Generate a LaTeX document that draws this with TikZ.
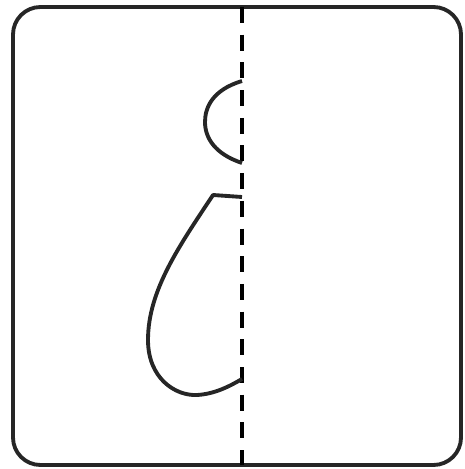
\documentclass[tikz,border=0pt]{standalone}
\usetikzlibrary{positioning}

\begin{document}
\begin{tikzpicture}[
  x=0.02cm,y=-0.02cm,
  outline/.style={draw=black!85,line width=2.2pt,line join=round},
  fold/.style={draw=black,line width=2.8pt,dash pattern=on 0.32cm off 0.234cm},
]
\useasboundingbox (0,0) rectangle (464,469);

% ---- card ------------------------------------------------------------------
\draw[outline,rounded corners=0.55cm] (13,7) rectangle (461,465);

% ---- fold line -------------------------------------------------------------
\coordinate (ftop) at (242,7);
\coordinate (fbot) at (242,465);
\draw[fold] (ftop) -- (fbot);

% ---- half figure (head and body) -------------------------------------------
\coordinate (hd1) at (242,81);
\coordinate (hd2) at (242,163);
\draw[outline] (hd1) .. controls (212,90) and (205,108) .. (205,122)
                     .. controls (205,138) and (215,154) .. (hd2);

\coordinate (bd1) at (242,197);
\coordinate (bd2) at (242,379);
\draw[outline] (bd1) -- (213,195)
  .. controls (180,245) and (148,290) .. (148,340)
  .. controls (148,378) and (175,396) .. (197,395)
  .. controls (215,394) and (230,386) .. (bd2);

\end{tikzpicture}
\end{document}
